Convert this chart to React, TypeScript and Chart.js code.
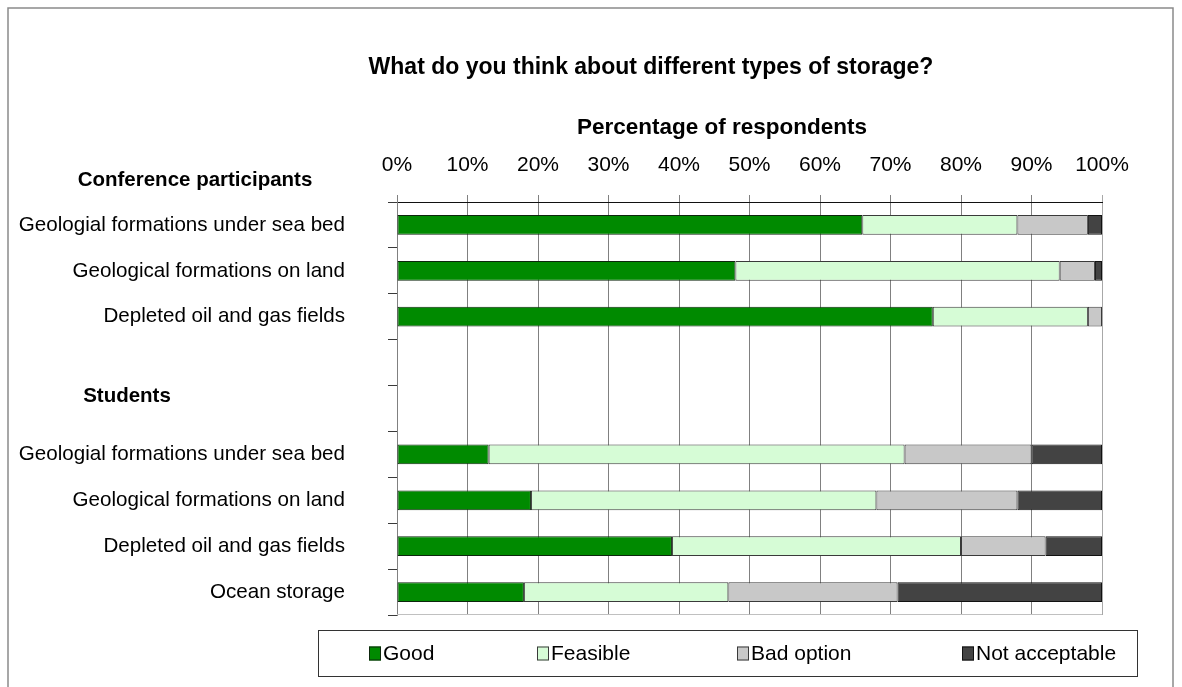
import { useEffect, useRef } from "react";
import { Chart, registerables } from "chart.js";

Chart.register(...registerables);

// Storage options, grouped by respondent group (two blank rows separate the groups)
const categories = [
  "Geologial formations under sea bed",
  "Geological formations on land",
  "Depleted oil and gas fields",
  "",
  "",
  "Geologial formations under sea bed",
  "Geological formations on land",
  "Depleted oil and gas fields",
  "Ocean storage",
];

// Percentage of respondents per answer
const good = [66, 48, 76, null, null, 13, 19, 39, 18];
const feasible = [22, 46, 22, null, null, 59, 49, 41, 29];
const badOption = [10, 5, 2, null, null, 18, 20, 12, 24];
const notAcceptable = [2, 1, 0, null, null, 10, 12, 8, 29];

const seriesNames = ["Good", "Feasible", "Bad option", "Not acceptable"];
const groupNames = ["Conference participants", "Students"];
const chartTitle = "What do you think about different types of storage?";
const axisTitle = "Percentage of respondents";

const FONT = "'Liberation Sans', Arial, sans-serif";

const fills = ["#008a00", "#d6fcd6", "#c8c8c8", "#434343"];
const edges = ["#0d260d", "#3a3a3a", "#3a3a3a", "#111111"];

// Frame, headings, group captions and the boxed legend
const decorations = {
  id: "decorations",
  afterDraw(chart: Chart) {
    const { ctx, chartArea } = chart;
    ctx.save();

    // outer frame
    ctx.strokeStyle = "#8a8a8a";
    ctx.lineWidth = 1.5;
    ctx.beginPath();
    ctx.moveTo(8, 700);
    ctx.lineTo(8, 8);
    ctx.lineTo(1173, 8);
    ctx.lineTo(1173, 700);
    ctx.stroke();

    // plot bottom edge
    ctx.strokeStyle = "#c0c0c0";
    ctx.lineWidth = 1;
    ctx.beginPath();
    ctx.moveTo(chartArea.left, Math.round(chartArea.bottom) - 0.5);
    ctx.lineTo(chartArea.right, Math.round(chartArea.bottom) - 0.5);
    ctx.stroke();

    ctx.fillStyle = "#000";
    ctx.textBaseline = "middle";
    ctx.textAlign = "center";
    ctx.font = `bold 23px ${FONT}`;
    ctx.fillText(chartTitle, 651, 68);
    ctx.font = `bold 22.5px ${FONT}`;
    ctx.fillText(axisTitle, 722, 128);
    ctx.font = `bold 20.5px ${FONT}`;
    ctx.fillText(groupNames[0], 195, 180);
    ctx.fillText(groupNames[1], 127, 396);

    // legend box
    const lx = 318.5, ly = 630.5, lw = 819, lh = 46;
    ctx.strokeStyle = "#333";
    ctx.lineWidth = 1;
    ctx.strokeRect(lx, ly, lw, lh);

    const itemX = [369, 537, 737, 962];
    ctx.font = `21px ${FONT}`;
    ctx.textAlign = "left";
    chart.data.datasets.forEach((ds: any, i: number) => {
      const x = itemX[i];
      const cy = ly + lh / 2;
      ctx.fillStyle = ds.backgroundColor;
      ctx.fillRect(x, cy - 7, 12, 14);
      ctx.strokeStyle = ds.borderColor;
      ctx.strokeRect(x + 0.5, cy - 6.5, 11, 13);
      ctx.fillStyle = "#000";
      ctx.fillText(ds.label, x + 14, cy + 1);
    });

    ctx.restore();
  },
};

export default function App() {
  const canvasRef = useRef<HTMLCanvasElement | null>(null);

  useEffect(() => {
    const canvas = canvasRef.current;
    if (!canvas) return;
    const values = [good, feasible, badOption, notAcceptable];

    const chart = new Chart(canvas, {
      type: "bar",
      data: {
        labels: categories,
        datasets: values.map((v, i) => ({
          label: seriesNames[i],
          data: v,
          backgroundColor: fills[i],
          borderColor: edges[i],
          borderWidth: 1,
          borderSkipped: false,
          barPercentage: 0.43,
          categoryPercentage: 1,
        })),
      },
      options: {
        indexAxis: "y",
        responsive: false,
        animation: false,
        devicePixelRatio: 1,
        layout: { padding: { top: 140, right: 80, bottom: 72, left: 0 } },
        plugins: {
          legend: { display: false },
          title: { display: false },
          tooltip: { enabled: false },
        },
        scales: {
          x: {
            position: "top",
            stacked: true,
            min: 0,
            max: 100,
            ticks: {
              stepSize: 10,
              padding: 17,
              color: "#000",
              font: { family: FONT, size: 21 },
              callback: (v: any) => `${v}%`,
            },
            grid: {
              color: (c: any) => (c.tick && c.tick.value === 100 ? "#a8a8a8" : "#808080"),
              lineWidth: 1,
              tickLength: 7,
            },
            border: { color: "#111", width: 1 },
            afterFit: (s: any) => {
              s.height = 62;
            },
          },
          y: {
            stacked: true,
            offset: true,
            ticks: {
              padding: 43,
              color: "#000",
              font: { family: FONT, size: 20.6 },
            },
            grid: {
              offset: true,
              drawOnChartArea: false,
              drawTicks: true,
              tickLength: 9,
              color: "#3a3a3a",
            },
            border: { color: "#808080", width: 1 },
            afterFit: (s: any) => {
              s.width = 397;
            },
          },
        },
      },
      plugins: [decorations],
    });

    return () => chart.destroy();
  }, []);

  return (
    <div style={{ position: "absolute", left: 0, top: 0, width: 1182, height: 687, background: "#fff" }}>
      <canvas ref={canvasRef} width={1182} height={687} style={{ display: "block" }} />
    </div>
  );
}
